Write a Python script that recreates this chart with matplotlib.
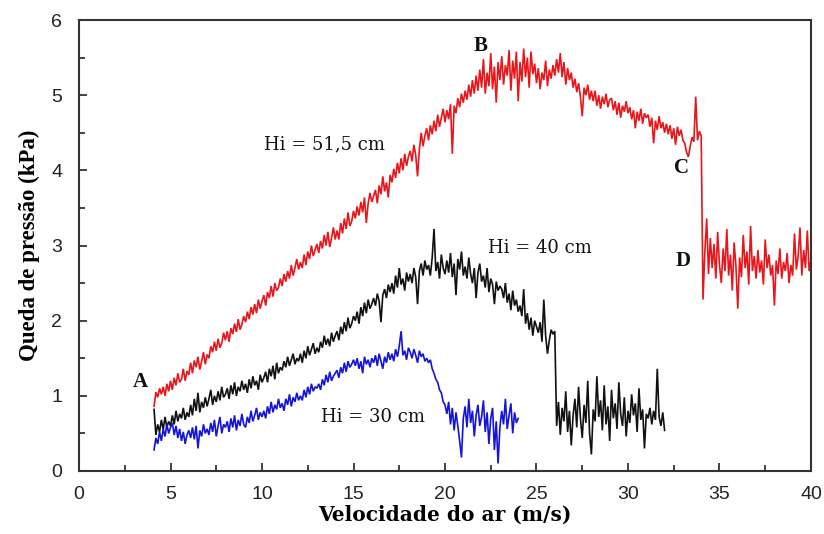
import numpy as np
import matplotlib
matplotlib.use("Agg")
import matplotlib.pyplot as plt
from matplotlib.ticker import MultipleLocator

# ---- data (kPa), sampled every 0.1 m/s starting at x0 ----
x0 = 4.1
dx = 0.1

red_515 = [
    0.86, 1.05, 0.98, 1.10, 1.02, 1.12, 1.00, 1.16, 1.06, 1.20,
    1.08, 1.24, 1.14, 1.30, 1.18, 1.22, 1.36, 1.20, 1.33, 1.28,
    1.44, 1.30, 1.47, 1.38, 1.52, 1.35, 1.46, 1.58, 1.42, 1.55,
    1.50, 1.66, 1.58, 1.72, 1.60, 1.76, 1.64, 1.70, 1.84, 1.74,
    1.86, 1.72, 1.90, 1.82, 1.96, 1.85, 2.02, 1.88, 1.95, 2.06,
    1.98, 2.12, 2.02, 2.18, 2.08, 2.22, 2.10, 2.28, 2.16, 2.26,
    2.34, 2.20, 2.38, 2.30, 2.46, 2.32, 2.50, 2.40, 2.44, 2.56,
    2.46, 2.62, 2.52, 2.66, 2.56, 2.74, 2.60, 2.70, 2.82, 2.68,
    2.78, 2.70, 2.88, 2.74, 2.92, 2.82, 3.00, 2.86, 2.94, 3.02,
    2.90, 3.06, 2.96, 3.14, 3.00, 3.18, 2.98, 3.10, 3.24, 3.08,
    3.20, 3.08, 3.30, 3.16, 3.36, 3.22, 3.44, 3.26, 3.32, 3.46,
    3.36, 3.52, 3.40, 3.58, 3.44, 3.64, 3.30, 3.56, 3.70, 3.58,
    3.66, 3.74, 3.56, 3.80, 3.68, 3.92, 3.72, 3.84, 3.64, 3.94,
    3.84, 4.02, 3.90, 4.10, 3.96, 4.16, 4.00, 4.22, 4.06, 4.18,
    4.26, 4.12, 4.34, 4.20, 3.92, 4.28, 4.50, 4.32, 4.46, 4.56,
    4.40, 4.60, 4.48, 4.66, 4.52, 4.74, 4.58, 4.70, 4.82, 4.64,
    4.80, 4.68, 4.88, 4.22, 4.86, 4.76, 4.96, 4.84, 5.02, 4.90,
    5.06, 4.94, 5.14, 4.98, 5.20, 5.02, 5.26, 5.06, 5.34, 5.10,
    5.48, 5.02, 5.30, 5.12, 5.56, 5.08, 5.38, 4.90, 5.44, 5.20,
    5.52, 5.14, 5.40, 5.26, 5.60, 5.06, 5.46, 5.22, 5.58, 4.92,
    5.44, 5.18, 5.62, 5.24, 5.50, 5.10, 5.58, 5.28, 5.42, 5.16,
    5.36, 5.08, 5.30, 5.20, 5.46, 5.12, 5.34, 5.22, 5.40, 5.26,
    5.48, 5.30, 5.56, 5.24, 5.44, 5.14, 5.36, 5.20, 5.30, 5.10,
    5.22, 5.04, 5.16, 4.98, 4.72, 5.10, 5.00, 5.14, 4.94, 5.06,
    4.92, 5.06, 4.86, 5.00, 4.82, 4.98, 4.88, 5.02, 4.84, 4.94,
    4.96, 4.80, 4.92, 4.74, 4.90, 4.70, 4.86, 4.78, 4.92, 4.76,
    4.84, 4.68, 4.80, 4.56, 4.78, 4.66, 4.82, 4.62, 4.76, 4.70,
    4.74, 4.58, 4.70, 4.36, 4.66, 4.54, 4.72, 4.56, 4.64, 4.50,
    4.62, 4.48, 4.60, 4.42, 4.56, 4.34, 4.58, 4.46, 4.54, 4.40,
    4.36, 4.24, 4.18, 4.32, 4.44, 4.38, 4.98, 4.40, 4.52, 4.46,
    2.28, 2.92, 3.36, 2.62, 3.10, 2.70, 3.02, 2.56, 3.18, 2.74,
    2.50, 2.96, 2.66, 3.22, 2.60, 2.88, 2.40, 3.04, 2.72, 2.16,
    2.84, 2.58, 3.14, 2.70, 2.92, 2.48, 3.26, 2.66, 2.86, 2.56,
    2.94, 2.64, 2.80, 2.48, 3.08, 2.70, 2.88, 2.60, 2.74, 2.20,
    2.80, 2.62, 2.96, 2.56, 2.78, 2.66, 2.90, 2.50, 2.74, 2.60,
    3.16, 2.68, 2.86, 3.24, 2.60, 2.94, 2.70, 3.20, 2.66, 2.80,
]

black_40 = [
    0.82, 0.48, 0.62, 0.52, 0.68, 0.55, 0.72, 0.58, 0.66, 0.60,
    0.74, 0.62, 0.80, 0.66, 0.76, 0.70, 0.84, 0.68, 0.78, 0.72,
    0.88, 0.74, 0.96, 0.80, 1.04, 0.78, 0.92, 0.84, 0.98, 0.86,
    0.96, 1.08, 0.88, 1.00, 0.92, 1.06, 0.94, 1.12, 0.98, 1.02,
    1.10, 0.96, 1.14, 1.02, 1.18, 1.00, 1.12, 1.06, 1.20, 1.08,
    1.16, 1.04, 1.22, 1.10, 1.26, 1.14, 1.20, 1.08, 1.28, 1.18,
    1.24, 1.32, 1.18, 1.36, 1.26, 1.40, 1.22, 1.44, 1.30, 1.38,
    1.34, 1.46, 1.38, 1.52, 1.40, 1.48, 1.56, 1.42, 1.50, 1.46,
    1.56, 1.44, 1.60, 1.50, 1.66, 1.54, 1.62, 1.70, 1.56, 1.64,
    1.58, 1.72, 1.64, 1.80, 1.68, 1.76, 1.66, 1.84, 1.72, 1.80,
    1.86, 1.74, 1.92, 1.82, 1.98, 1.86, 2.04, 1.90, 1.96, 2.06,
    2.00, 2.12, 1.96, 2.18, 2.06, 2.24, 2.10, 2.28, 2.16, 2.22,
    2.30, 2.20, 2.36, 2.26, 1.98, 2.34, 2.42, 2.30, 2.48, 2.38,
    2.50, 2.36, 2.60, 2.44, 2.70, 2.48, 2.56, 2.40, 2.64, 2.52,
    2.62, 2.50, 2.70, 2.58, 2.22, 2.66, 2.76, 2.60, 2.80, 2.68,
    2.74, 2.60, 2.84, 3.22, 2.66, 2.78, 2.56, 2.88, 2.70, 2.62,
    2.80, 2.64, 2.90, 2.58, 2.76, 2.34, 2.82, 2.68, 2.92, 2.60,
    2.72, 2.56, 2.84, 2.62, 2.50, 2.70, 2.30, 2.64, 2.76, 2.52,
    2.60, 2.44, 2.70, 2.38, 2.56, 2.48, 2.22, 2.52, 2.40, 2.46,
    2.42, 2.30, 2.50, 2.24, 2.36, 2.14, 2.40, 2.20, 2.28, 2.12,
    2.20, 2.06, 2.42, 1.96, 2.10, 1.88, 2.04, 1.80, 2.00, 1.92,
    1.84, 1.98, 1.72, 2.28, 1.80, 1.56, 1.74, 1.88, 1.82, 1.86,
    0.60, 0.92, 0.48, 0.84, 0.66, 1.06, 0.52, 0.80, 0.34, 0.74,
    0.96, 0.58, 1.12, 0.70, 0.44, 0.88, 0.64, 1.20, 0.50, 0.22,
    0.82, 0.66, 1.26, 0.72, 0.94, 0.54, 1.14, 0.62, 0.86, 0.40,
    1.08, 0.70, 0.90, 0.56, 1.18, 0.76, 0.60, 0.98, 0.46, 0.80,
    0.64, 1.02, 0.74, 0.90, 0.52, 1.10, 0.68, 0.82, 0.30, 0.76,
    0.70, 0.84, 0.62, 0.80, 0.68, 1.36, 0.72, 0.60, 0.78, 0.54,
]

blue_30 = [
    0.28, 0.44, 0.36, 0.52, 0.40, 0.56, 0.46, 0.62, 0.50, 0.58,
    0.64, 0.48, 0.60, 0.44, 0.56, 0.40, 0.52, 0.36, 0.48, 0.54,
    0.44, 0.58, 0.42, 0.60, 0.30, 0.54, 0.46, 0.62, 0.50, 0.56,
    0.48, 0.64, 0.52, 0.68, 0.46, 0.60, 0.72, 0.50, 0.62, 0.58,
    0.66, 0.52, 0.70, 0.58, 0.74, 0.54, 0.68, 0.60, 0.76, 0.62,
    0.58, 0.72, 0.64, 0.80, 0.66, 0.74, 0.84, 0.68, 0.78, 0.72,
    0.80, 0.70, 0.86, 0.76, 0.92, 0.78, 0.88, 0.82, 0.96, 0.84,
    0.90, 0.80, 0.96, 0.88, 1.02, 0.86, 0.98, 0.92, 1.04, 0.94,
    1.00, 0.94, 1.08, 0.98, 1.12, 1.02, 1.16, 1.06, 1.12, 1.10,
    1.16, 1.08, 1.22, 1.14, 1.28, 1.18, 1.32, 1.20, 1.26, 1.30,
    1.34, 1.24, 1.38, 1.30, 1.44, 1.32, 1.46, 1.38, 1.42, 1.48,
    1.40, 1.50, 1.36, 1.46, 1.30, 1.52, 1.42, 1.48, 1.38, 1.50,
    1.44, 1.54, 1.40, 1.56, 1.46, 1.36, 1.52, 1.44, 1.58, 1.48,
    1.56, 1.46, 1.62, 1.52, 1.66, 1.86, 1.54, 1.60, 1.48, 1.64,
    1.58, 1.50, 1.62, 1.54, 1.44, 1.60, 1.52, 1.56, 1.46, 1.50,
    1.44, 1.48, 1.36, 1.30, 1.22, 1.18, 1.08, 1.04, 0.92, 0.88,
    0.76, 0.92, 0.62, 0.84, 0.54, 0.78, 0.60, 0.40, 0.18, 0.70,
    0.86, 0.58, 0.96, 0.64, 0.80, 0.46, 0.74, 0.88, 0.60, 0.72,
    0.94, 0.52, 0.78, 0.36, 0.70, 0.84, 0.28, 0.66, 0.10, 0.58,
    0.80, 0.62, 0.96, 0.56, 0.74, 0.90, 0.50, 0.78, 0.64, 0.70,
]

x_ticks = [0, 5, 10, 15, 20, 25, 30, 35, 40]
y_ticks = [0, 1, 2, 3, 4, 5, 6]

# ---- figure ----
fig = plt.figure(figsize=(8.24, 5.34), dpi=100)
ax = fig.add_axes([0.0959, 0.118, 0.8883, 0.8445])

serif = ["Liberation Serif", "DejaVu Serif"]
wide_serif = ["DejaVu Serif", "Liberation Serif"]
sans = ["Liberation Sans", "DejaVu Sans"]

for ys, col in [(red_515, "#e8161b"), (black_40, "#111111"), (blue_30, "#1414d8")]:
    xs = x0 + dx * np.arange(len(ys))
    ax.plot(xs, ys, color=col, lw=1.2, solid_joinstyle="miter")

ax.set_xlim(0, 40)
ax.set_ylim(0, 6)
ax.set_xticks(x_ticks)
ax.set_yticks(y_ticks)
ax.xaxis.set_minor_locator(MultipleLocator(2.5))
ax.yaxis.set_minor_locator(MultipleLocator(0.5))
ax.tick_params(which="both", direction="in", top=False, right=False,
               width=1.3, color="#333333", labelsize=14, labelcolor="#222222")
ax.tick_params(which="major", length=6)
ax.tick_params(which="minor", length=4)
ax.tick_params(axis="x", pad=11)
ax.tick_params(axis="y", pad=12)
for lab in ax.get_xticklabels() + ax.get_yticklabels():
    lab.set_family(sans)
for s in ax.spines.values():
    s.set_linewidth(1.5)
    s.set_color("#333333")

ax.set_xlabel("Velocidade do ar (m/s)", family=wide_serif, fontweight="bold",
              fontsize=14.5, labelpad=1)
ax.set_ylabel("Queda de pressão (kPa)", family=serif, fontweight="bold",
              fontsize=16.5, labelpad=8)

ann = dict(family=wide_serif, fontsize=13, color="#111111", va="center",
           ha="center")
ax.text(13.39, 4.35, "Hi = 51,5 cm", **ann)
ax.text(25.2, 2.97, "Hi = 40 cm", **ann)
ax.text(16.07, 0.72, "Hi = 30 cm", **ann)

lbl = dict(family=serif, fontsize=15, fontweight="bold", color="#111111",
           ha="center", va="center")
ax.text(3.33, 1.18, "A", **lbl)
ax.text(21.97, 5.65, "B", **lbl)
ax.text(32.9, 4.03, "C", **lbl)
ax.text(33.0, 2.8, "D", **lbl)

fig.savefig("out.png", dpi=100)
